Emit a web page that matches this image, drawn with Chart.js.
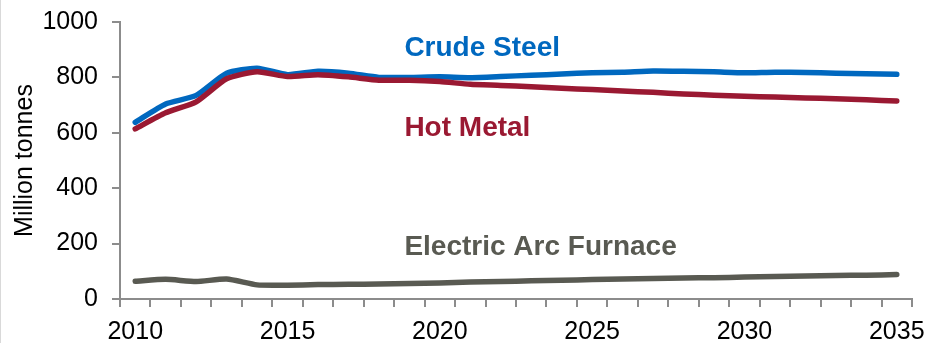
<!DOCTYPE html>
<html>
<head>
<meta charset="utf-8">
<script src="https://cdn.jsdelivr.net/npm/chart.js@4.4.1/dist/chart.umd.min.js"></script>
<style>
  html, body { margin: 0; padding: 0; background: #fff; }
  #wrap { width: 928px; height: 343px; position: relative; }
</style>
</head>
<body>
<div id="wrap"><canvas id="steelChart"></canvas></div>
<script>
const years = [2010, 2011, 2012, 2013, 2014, 2015, 2016, 2017, 2018, 2019, 2020, 2021, 2022,
  2023, 2024, 2025, 2026, 2027, 2028, 2029, 2030, 2031, 2032, 2033, 2034, 2035];

const crudeSteel = [638, 704, 735, 815, 833, 810, 822, 815, 800, 800, 802, 799, 803,
  808, 812, 817, 819, 823, 822, 820, 817, 819, 818, 815, 813, 811];

const hotMetal = [614, 672, 712, 795, 820, 803, 810, 802, 790, 790, 785, 775, 771,
  766, 761, 756, 751, 746, 740, 736, 732, 729, 726, 723, 719, 715];

const electricArc = [64, 71, 63, 72, 51, 50, 52, 53, 54, 56, 58, 61, 63,
  66, 68, 70, 72, 74, 76, 77, 79, 81, 83, 85, 86, 88];

const seriesNames = ['Crude Steel', 'Hot Metal', 'Electric Arc Furnace'];
const seriesColors = ['#0068bf', '#9a1932', '#595a52'];
// value at which each series name sits (text baseline)
const nameLevels = [876, 590, 160];
const yTicks = [0, 200, 400, 600, 800, 1000];

const axisColor = '#8c8c8c';
const fontFamily = '"Liberation Sans", Arial, sans-serif';

// series names written straight onto the plot area
const seriesNamesPlugin = {
  id: 'seriesNames',
  afterDatasetsDraw(chart) {
    const ctx = chart.ctx;
    const x = chart.scales.x.getPixelForValue(9) - 5;
    ctx.save();
    ctx.font = 'bold 28px ' + fontFamily;
    ctx.textAlign = 'left';
    ctx.textBaseline = 'alphabetic';
    seriesNames.forEach((name, i) => {
      ctx.fillStyle = seriesColors[i];
      ctx.fillText(name, x, chart.scales.y.getPixelForValue(nameLevels[i]));
    });
    ctx.restore();
  }
};

const frameEdge = {
  id: 'frameEdge',
  beforeDraw(chart) {
    const ctx = chart.ctx;
    ctx.save();
    ctx.strokeStyle = '#d9d9d9';
    ctx.lineWidth = 1;
    ctx.beginPath();
    ctx.moveTo(0.5, 0);
    ctx.lineTo(0.5, chart.height);
    ctx.stroke();
    ctx.restore();
  }
};

function lineSet(label, data, color) {
  return {
    label: label,
    data: data,
    borderColor: color,
    backgroundColor: color,
    borderWidth: 5.5,
    pointRadius: 0,
    borderCapStyle: 'round',
    borderJoinStyle: 'round',
    tension: 0.2,
    fill: false
  };
}

new Chart(document.getElementById('steelChart'), {
  type: 'line',
  data: {
    labels: years,
    datasets: [
      lineSet(seriesNames[2], electricArc, seriesColors[2]),
      lineSet(seriesNames[1], hotMetal, seriesColors[1]),
      lineSet(seriesNames[0], crudeSteel, seriesColors[0])
    ]
  },
  options: {
    responsive: true,
    maintainAspectRatio: false,
    animation: false,
    layout: { padding: { top: 22, right: 16, left: 0, bottom: 0 } },
    plugins: {
      legend: { display: false },
      tooltip: { enabled: false }
    },
    scales: {
      x: {
        type: 'category',
        offset: true,
        border: { color: axisColor, width: 2 },
        grid: { offset: true, drawOnChartArea: false, tickLength: 8, color: axisColor, lineWidth: 2 },
        ticks: {
          autoSkip: false,
          maxRotation: 0,
          padding: 10,
          color: '#000',
          font: { family: fontFamily, size: 25 },
          callback: function (val) {
            const yr = years[val];
            return yr % 5 === 0 ? String(yr) : '';
          }
        },
        afterFit: function (scale) {
          scale.height = 44;
          scale.paddingLeft = 0;
          scale.paddingRight = 0;
        }
      },
      y: {
        min: 0,
        max: 1000,
        border: { color: axisColor, width: 2 },
        grid: { drawOnChartArea: false, tickLength: 8, color: axisColor, lineWidth: 2 },
        afterBuildTicks: function (scale) {
          scale.ticks = yTicks.map(v => ({ value: v }));
        },
        ticks: {
          padding: 14,
          color: '#000',
          font: { family: fontFamily, size: 25 },
          callback: function (val) { return String(val); }
        },
        title: {
          display: true,
          text: 'Million tonnes',
          color: '#000',
          font: { family: fontFamily, size: 25 },
          padding: { top: 10, bottom: 0 }
        },
        afterFit: function (scale) {
          scale.width = 120;
          scale.paddingTop = 0;
          scale.paddingBottom = 0;
        }
      }
    }
  },
  plugins: [seriesNamesPlugin, frameEdge]
});
</script>
</body>
</html>
